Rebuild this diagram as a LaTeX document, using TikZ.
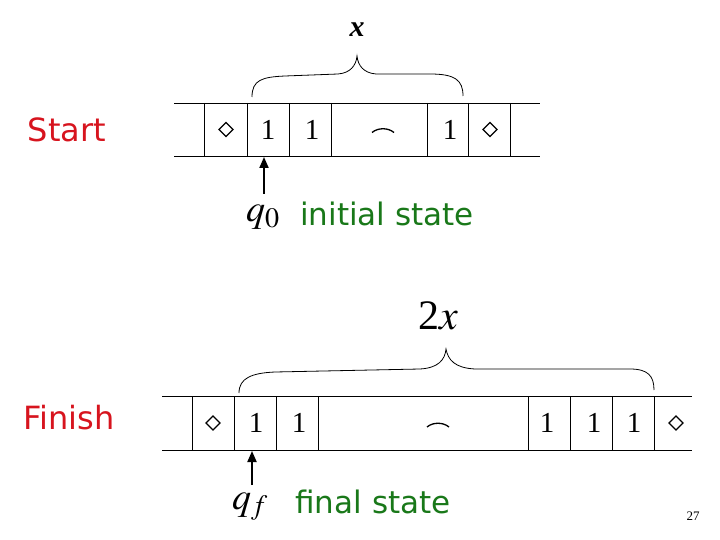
\documentclass[tikz,border=0pt]{standalone}
\usepackage{mathptmx}
\usepackage{fontspec}
\setmainfont{Liberation Serif}
\newfontfamily\lab{DejaVu Sans}
\usetikzlibrary{arrows.meta}
\definecolor{lred}{RGB}{215,20,30}
\definecolor{lgreen}{RGB}{25,120,25}
\newcommand\diamat[1]{\draw[diam] ([xshift=-7pt]#1.center) -- ([yshift=7pt]#1.center) -- ([xshift=7pt]#1.center) -- ([yshift=-7pt]#1.center) -- cycle;}
\begin{document}
\begin{tikzpicture}[x=1pt,y=-1pt,
  tape/.style={line width=0.9pt},
  cell/.style={inner sep=0pt, minimum height=53pt, font=\fontsize{29}{31}\selectfont},
  diam/.style={line width=1.3pt, line join=miter},
  brace/.style={line width=0.8pt},
  hatline/.style={line width=1.3pt},
  arr/.style={line width=2pt, -{Triangle[width=9pt,length=11pt]}},
  side/.style={text=lred, font=\lab\fontsize{32}{34}\selectfont},
  note/.style={text=lgreen, font=\lab\fontsize{31}{34}\selectfont},
  st/.style={font=\fontsize{38}{40}\selectfont, inner sep=0pt, anchor=base}]
\useasboundingbox (0,0) rectangle (720,540);

% labels
\node[side] (start) at (67,130) {Start};
\node[side] (finish) at (69,418) {Finish};

% ---- top tape ----
\draw[tape] (174,103) -- (540,103);
\draw[tape] (174,156) -- (540,156);
\foreach \x in {204,247,289,331,427,468,510} \draw[tape] (\x,103) -- (\x,156);
\node[cell, minimum width=43pt] (a1) at (226,129.5) {};
\node[cell, minimum width=42pt] (a2) at (268,129.5) {1};
\node[cell, minimum width=42pt] (a3) at (312,129.5) {1};
\node[cell, minimum width=96pt] (a4) at (379,129.5) {};
\node[cell, minimum width=41pt] (a5) at (450,129.5) {1};
\node[cell, minimum width=42pt] (a6) at (490,129.5) {};
\diamat{a1}
\diamat{a6}
\draw[hatline] ([shift={(-7,3)}]a4.center) .. controls ([shift={(-1,-2)}]a4.center) and ([shift={(9,-2)}]a4.center) .. ([shift={(15,3)}]a4.center);

% brace x
\draw[brace] (252,97) .. controls (252,80) and (262,77) .. (285,76) -- (338,74) .. controls (350,73) and (356,66) .. (357,56) .. controls (358,66) and (364,73) .. (376,74) -- (430,74) .. controls (455,74) and (463,80) .. (463,96);
\node (xlab) at (357,30) {\fontsize{30}{32}\selectfont\bfseries\itshape x};

% head q0
\coordinate (h0) at (264,157);
\node[st] (q0) at (263,222) {$q_0$};
\draw[arr] (h0 |- 0,194) -- (h0);
\node[note] (init) at (387,214) {initial state};

% ---- bottom tape ----
\draw[tape] (162,396) -- (692,396);
\draw[tape] (162,450) -- (692,450);
\foreach \x in {192,234,276,318,528,570,612,654} \draw[tape] (\x,396) -- (\x,450);
\node[cell, minimum width=42pt] (b1) at (213,423) {};
\node[cell, minimum width=42pt] (b2) at (256,423) {1};
\node[cell, minimum width=42pt] (b3) at (299,423) {1};
\node[cell, minimum width=210pt] (b4) at (423,423) {};
\node[cell, minimum width=42pt] (b5) at (547,423) {1};
\node[cell, minimum width=42pt] (b6) at (594,423) {1};
\node[cell, minimum width=42pt] (b7) at (634,423) {1};
\node[cell, minimum width=42pt] (b8) at (676,423) {};
\diamat{b1}
\diamat{b8}
\draw[hatline] ([shift={(4,4)}]b4.center) .. controls ([shift={(10,-1)}]b4.center) and ([shift={(20,-1)}]b4.center) .. ([shift={(26,4)}]b4.center);

% brace 2x
\draw[brace] (239,393) .. controls (239,378) and (252,373) .. (275,372) -- (420,369) .. controls (438,368) and (445,360) .. (446,349) .. controls (448,360) and (455,368) .. (475,369) -- (630,369) .. controls (648,369) and (654,376) .. (654,390);
\node (tlab) at (438,316) {\fontsize{42}{44}\selectfont 2$x$};

% head qf
\coordinate (hf) at (252,451);
\node[st] (qf) at (250,509) {$q_f$};
\draw[arr] (hf |- 0,485) -- (hf);
\node[note] (fin) at (373,502) {final state};

\node (pg) at (693,516) {\fontsize{13}{13}\selectfont 27};
\end{tikzpicture}
\end{document}
